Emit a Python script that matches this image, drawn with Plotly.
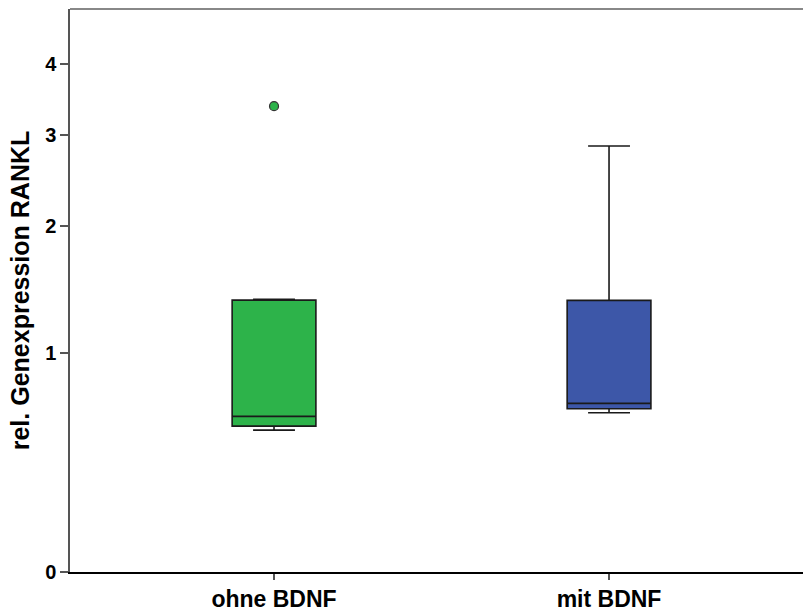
import numpy as np
import plotly.graph_objects as go

# Data (original units)
groups = ["ohne BDNF", "mit BDNF"]
q1 = [0.588, 0.678]
median = [0.638, 0.707]
q3 = [1.368, 1.366]
lower_whisker = [0.568, 0.657]
upper_whisker = [1.374, 2.86]
outlier_group = ["ohne BDNF"]
outlier_value = [3.38]
colors = ["#2db34a", "#3d57a8"]
y_tick_values = [0, 1, 2, 3, 4]
y_top = 4.96


def tr(v):
    # axis is drawn on a log(x+1) scale
    return np.log1p(np.asarray(v, dtype=float))


fig = go.Figure()
for i, g in enumerate(groups):
    fig.add_trace(go.Box(
        x=[g],
        q1=tr([q1[i]]), median=tr([median[i]]), q3=tr([q3[i]]),
        lowerfence=tr([lower_whisker[i]]), upperfence=tr([upper_whisker[i]]),
        fillcolor=colors[i],
        line=dict(color="#1a1a1a", width=1.6),
        whiskerwidth=0.5,
        width=0.25,
        boxpoints=False,
        showlegend=False,
        hoverinfo="skip",
    ))

fig.add_trace(go.Scatter(
    x=outlier_group, y=tr(outlier_value), mode="markers",
    marker=dict(color=colors[0], size=9, line=dict(color="#333333", width=1.2)),
    showlegend=False, hoverinfo="skip",
))

FONT = "Liberation Sans, Arial, sans-serif"
fig.update_layout(
    width=803, height=616,
    margin=dict(l=70, r=0, t=9, b=44, autoexpand=False),
    plot_bgcolor="white", paper_bgcolor="white",
    font=dict(family=FONT, color="black"),
    xaxis=dict(
        type="category", categoryorder="array", categoryarray=groups,
        range=[-0.609, 1.579],
        showline=True, linecolor="black", linewidth=1.5,
        ticks="outside", ticklen=6, tickcolor="#555555", tickwidth=1.5,
        tickfont=dict(size=23, family=FONT, weight="bold"),
        showgrid=False, zeroline=False,
    ),
    yaxis=dict(
        range=[0, float(tr([y_top])[0])],
        tickvals=tr(y_tick_values), ticktext=[str(v) for v in y_tick_values],
        showline=True, linecolor="#555555", linewidth=1.5,
        ticks="outside", ticklen=8, tickcolor="#555555", tickwidth=1.5,
        tickfont=dict(size=20, family=FONT, weight="bold"),
        showgrid=False, zeroline=False,
        title=dict(text="rel. Genexpression RANKL",
                   font=dict(size=25, family=FONT, weight="bold"), standoff=8),
    ),
    shapes=[dict(type="line", xref="paper", yref="paper", x0=0, x1=1, y0=1, y1=1,
                 line=dict(color="#888888", width=2))],
)

fig.write_html("out.html", config={"displayModeBar": False},
               post_script="document.body.style.margin='0px';document.body.style.padding='0px';")
